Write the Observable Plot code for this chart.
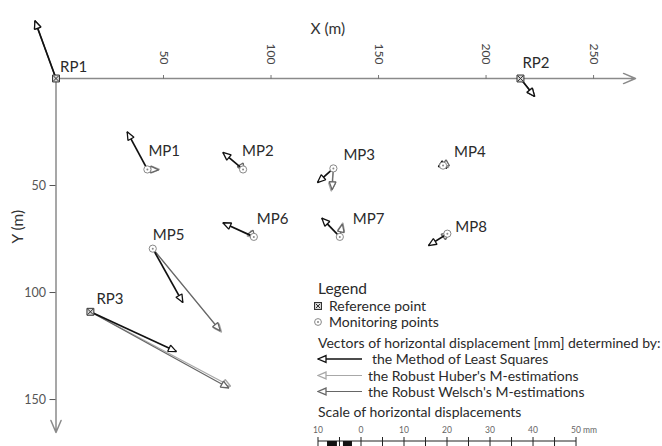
<!DOCTYPE html>
<html><head><meta charset="utf-8">
<script src="https://cdn.jsdelivr.net/npm/d3@7"></script>
<script src="https://cdn.jsdelivr.net/npm/@observablehq/plot@0.6"></script>
<style>
body{margin:0;background:#fff;}
#chart{position:relative;width:662px;height:446px;overflow:hidden;}
svg{font-family:Lato, "Open Sans", sans-serif;}
</style></head><body><div id="chart"></div>
<script>
// ---- data ----
const pointNames = ["RP1","RP2","RP3","MP1","MP2","MP3","MP4","MP5","MP6","MP7","MP8"];
const pointTypes = ["ref","ref","ref","mon","mon","mon","mon","mon","mon","mon","mon"];
const pointX = [0, 216, 16, 42.5, 87, 129, 180, 45, 92, 132, 182];      // m
const pointY = [0, 0, 109, 42.5, 42.5, 42, 40.7, 79.5, 74, 74, 72.5];    // m
// displacement vectors [mm]: dx (along X), dy (along Y, downward)
const lsmDX    = [-4.9, 3.3, 20.0, -4.7, -4.7, -3.7, 0.9, 7.0, -7.2, -4.2, -4.4];
const lsmDY    = [-13.5, 4.2, 9.3, -8.8, -4.0, 3.3, 0.6, 12.6, -3.3, -4.4, 2.8];
const huberDX  = [-4.9, 3.3, 32.6, 2.8, 0.4, -0.5, -0.7, 16.0, 0.4, 0.7, 0.6];
const huberDY  = [-13.5, 4.2, 17.4, 0.0, 0.6, 5.3, 0.2, 19.5, 0.3, -3.3, -0.5];
const welschDX = [-4.9, 3.3, 32.2, 2.6, 0.3, -0.3, -0.5, 15.7, 0.3, 0.6, 0.5];
const welschDY = [-13.5, 4.2, 17.8, 0.1, 0.5, 5.0, 0.3, 19.2, 0.4, -3.0, -0.4];
const vectorScale = 2;   // m of map per mm of displacement
const labelDX = [4, 2, 6, 1, -1, 10, 11, 0, 3, 13, 8];
const labelDY = [-15, -19, -16, -22, -22, -17, -17, -17, -21, -21, -10];
const xTicks = [50, 100, 150, 200, 250];
const yTicks = [50, 100, 150];
const xAxisMax = 269.5, yAxisMax = 165.4;
const scaleTicks = [-10, 0, 10, 20, 30, 40, 50];
const methodNames = ["the Method of Least Squares", "the Robust Huber's M-estimations", "the Robust Welsch's M-estimations"];
const methodColors = ["#111", "#a8a8a8", "#666"];
const methodWidths = [1.7, 1.2, 1.2];

// ---- derived tables ----
const points = pointNames.map((n, i) => ({name: n, type: pointTypes[i], x: pointX[i], y: pointY[i], ldx: labelDX[i], ldy: labelDY[i]}));
function vecs(DX, DY) {
  return points.map((p, i) => ({x1: p.x, y1: p.y, x2: p.x + DX[i] * vectorScale, y2: p.y + DY[i] * vectorScale}));
}
const vLsm = vecs(lsmDX, lsmDY), vHuber = vecs(huberDX, huberDY), vWelsch = vecs(welschDX, welschDY);

function triMarker(color) {
  const m = d3.create("svg:marker")
    .attr("viewBox", "-10 -5 11 10").attr("markerWidth", 11).attr("markerHeight", 10)
    .attr("markerUnits", "userSpaceOnUse").attr("orient", "auto")
    .attr("refX", 0).attr("refY", 0)
    .attr("fill", "white").attr("stroke", color).attr("stroke-width", 1.3).attr("stroke-linejoin", "miter");
  m.append("path").attr("d", "M-8,-3.4L0,0L-8,3.4Z");
  return m.node();
}

const refs = points.filter(p => p.type === "ref"), mons = points.filter(p => p.type === "mon");

const plot = Plot.plot({
  width: 662, height: 446,
  marginLeft: 55.5, marginTop: 78, marginRight: 27, marginBottom: 14,
  x: {domain: [0, xAxisMax], axis: null},
  y: {domain: [0, yAxisMax], reverse: true, axis: null},
  style: {fontFamily: "Lato, 'Open Sans', sans-serif", background: "white"},
  marks: [
    Plot.arrow([{x1: 0, y1: 0, x2: xAxisMax, y2: 0}], {x1: "x1", y1: "y1", x2: "x2", y2: "y2", stroke: "#8a8a8a", strokeWidth: 1.5, headLength: 13, headAngle: 46}),
    Plot.arrow([{x1: 0, y1: 0, x2: 0, y2: yAxisMax}], {x1: "x1", y1: "y1", x2: "x2", y2: "y2", stroke: "#8a8a8a", strokeWidth: 1.5, headLength: 13, headAngle: 46}),
    Plot.axisX(xTicks, {anchor: "top", tickSize: 4, tickFormat: () => "", label: null, color: "#777"}),
    Plot.text(xTicks, {x: d => d, frameAnchor: "top", dy: -14, rotate: 90, textAnchor: "end", lineAnchor: "middle", fontSize: 12, fill: "#444", text: d => String(d)}),
    Plot.axisY(yTicks, {anchor: "left", tickSize: 6, tickPadding: 4, fontSize: 12.5, label: null, color: "#555"}),
    Plot.text(["X (m)"], {frameAnchor: "top", dx: -18, dy: -56, fontSize: 15.5, fill: "#333"}),
    Plot.text(["Y (m)"], {frameAnchor: "left", dx: -38, dy: -12, rotate: -90, fontSize: 15.5, fill: "#333"}),
    Plot.link(vHuber, {x1: "x1", y1: "y1", x2: "x2", y2: "y2", stroke: methodColors[1], strokeWidth: methodWidths[1], markerEnd: triMarker}),
    Plot.link(vWelsch, {x1: "x1", y1: "y1", x2: "x2", y2: "y2", stroke: methodColors[2], strokeWidth: methodWidths[2], markerEnd: triMarker}),
    Plot.link(vLsm, {x1: "x1", y1: "y1", x2: "x2", y2: "y2", stroke: methodColors[0], strokeWidth: methodWidths[0], markerEnd: triMarker}),
    Plot.dot(refs, {x: "x", y: "y", symbol: "square", r: 3.9, fill: "#d8d8d8", stroke: "#333", strokeWidth: 1}),
    Plot.dot(refs, {x: "x", y: "y", symbol: "times", r: 2.6, stroke: "#333", strokeWidth: 1}),
    Plot.dot(mons, {x: "x", y: "y", symbol: "circle", r: 3.6, fill: "white", stroke: "#888", strokeWidth: 1}),
    Plot.dot(mons, {x: "x", y: "y", symbol: "circle", r: 1, fill: "#888"}),
    Plot.text(points, {x: "x", y: "y", text: "name", textAnchor: "start", fontSize: 15, fill: "#2a2a2a", className: "ptlabels"}),
  ]
});
document.getElementById("chart").appendChild(plot);

const svg = d3.select(plot);
// per-point label offsets
svg.selectAll(".ptlabels text").each(function(d, i) {
  const p = points[i];
  d3.select(this).attr("dx", p.ldx).attr("dy", p.ldy).attr("dominant-baseline", "middle");
});

// ---- legend ----
const sx = plot.scale("x");
const pxPerMm = (sx.apply(vectorScale * 10) - sx.apply(0)) / 10;
const g = svg.append("g").attr("font-family", "Lato, 'Open Sans', sans-serif").attr("fill", "#2a2a2a").attr("text-anchor", "start");
const L = 318;
g.append("text").attr("x", L).attr("y", 294).attr("font-size", 15.5).text("Legend");
g.append("rect").attr("x", L - 3.5).attr("y", 302.5).attr("width", 7).attr("height", 7).attr("fill", "#d8d8d8").attr("stroke", "#333");
g.append("path").attr("d", `M${L-2.2},${303.8}L${L+2.2},${308.2}M${L+2.2},${303.8}L${L-2.2},${308.2}`).attr("stroke", "#333");
g.append("text").attr("x", 329).attr("y", 311).attr("font-size", 14).text("Reference point");
g.append("circle").attr("cx", L).attr("cy", 322).attr("r", 3.4).attr("fill", "white").attr("stroke", "#888");
g.append("circle").attr("cx", L).attr("cy", 322).attr("r", 1).attr("fill", "#888");
g.append("text").attr("x", 329).attr("y", 327).attr("font-size", 14).text("Monitoring points");
g.append("text").attr("x", L).attr("y", 347.5).attr("font-size", 14).text("Vectors of horizontal displacement [mm] determined by:");
const rowY = [359, 375.5, 391.5], textX = [372, 368, 368];
methodNames.forEach((name, i) => {
  const mk = triMarker(methodColors[i]);
  const id = "legmk" + i; mk.setAttribute("id", id);
  svg.node().appendChild(mk);
  g.append("line").attr("x1", 362).attr("x2", L).attr("y1", rowY[i]).attr("y2", rowY[i])
    .attr("stroke", methodColors[i]).attr("stroke-width", methodWidths[i]).attr("marker-end", `url(#${id})`);
  g.append("text").attr("x", textX[i]).attr("y", rowY[i] + 5).attr("font-size", 14).text(name);
});
g.append("text").attr("x", L).attr("y", 417).attr("font-size", 14).text("Scale of horizontal displacements");
// scale bar
const zeroX = 361;
const bx = v => zeroX + v * pxPerMm;
g.append("line").attr("x1", bx(-10)).attr("x2", bx(50)).attr("y1", 441).attr("y2", 441).attr("stroke", "#222").attr("stroke-width", 1.2);
[[-7.9, -5.6], [-4.2, -2.1]].forEach(([a, b]) => g.append("rect").attr("x", bx(a)).attr("y", 441).attr("width", bx(b) - bx(a)).attr("height", 6).attr("fill", "#111"));
d3.range(-10, 51, 5).forEach(v => g.append("line").attr("x1", bx(v)).attr("x2", bx(v)).attr("y1", 437).attr("y2", 447).attr("stroke", "#222").attr("stroke-width", 1));
scaleTicks.forEach(v => g.append("text").attr("x", bx(v)).attr("y", 433).attr("text-anchor", "middle").attr("font-size", 8.5).attr("fill", "#666").text(Math.abs(v)));
g.append("text").attr("x", bx(50) + 7).attr("y", 433).attr("font-size", 8.5).attr("fill", "#666").text("mm");
</script></body></html>
